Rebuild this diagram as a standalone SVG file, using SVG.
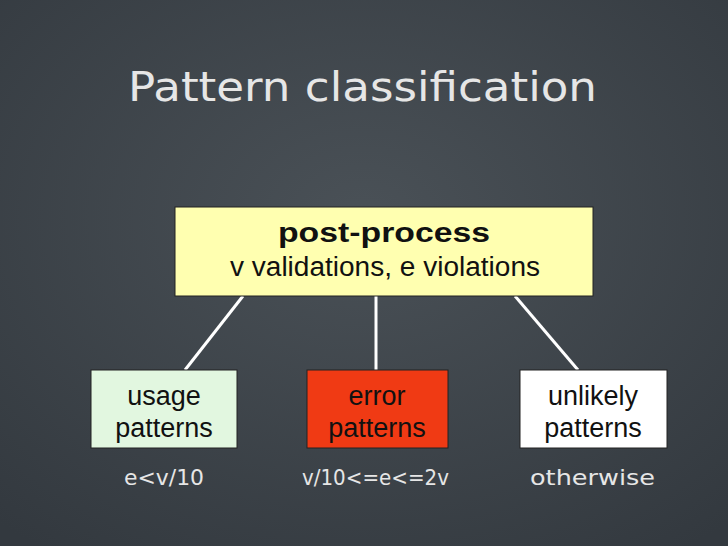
<svg xmlns="http://www.w3.org/2000/svg" width="728" height="546" viewBox="0 0 728 546">
<defs>
<radialGradient id="bg" cx="50%" cy="40%" r="75%">
<stop offset="0" stop-color="#4a5157"/><stop offset="1" stop-color="#33393f"/>
</radialGradient>
<style>
.box{stroke:#222;stroke-width:1}
.t{font-family:"Liberation Sans",Arial,sans-serif;font-size:27px;text-anchor:middle;fill:#111}
.chalk{font-family:"DejaVu Sans",sans-serif;fill:#e6e6e6}
.conn line{stroke:#fff;stroke-width:3}
</style>
</defs>
<rect width="728" height="546" fill="url(#bg)"/>
<text class="chalk" x="128" y="101" font-size="40" textLength="469" lengthAdjust="spacingAndGlyphs">Pattern classification</text>
<g class="conn">
<line x1="243" y1="296" x2="185" y2="370"/>
<line x1="376" y1="296" x2="376" y2="370"/>
<line x1="515" y1="296" x2="578" y2="370"/>
</g>
<g id="post-process">
<rect class="box" x="175" y="207" width="418" height="89" fill="#ffffb0"/>
<text class="t" x="384" y="242" font-weight="bold" font-size="30" textLength="212" lengthAdjust="spacingAndGlyphs">post-process</text>
<text class="t" x="385" y="276" textLength="310" lengthAdjust="spacingAndGlyphs">v validations, e violations</text>
</g>
<g id="usage">
<rect class="box" x="91" y="370" width="146" height="78" fill="#e2f7e0"/>
<text class="t" x="164" y="405">usage</text>
<text class="t" x="164" y="437">patterns</text>
</g>
<g id="error">
<rect class="box" x="307" y="370" width="141" height="78" fill="#f03a14"/>
<text class="t" x="377" y="405">error</text>
<text class="t" x="377" y="437">patterns</text>
</g>
<g id="unlikely">
<rect class="box" x="520" y="370" width="147" height="78" fill="#ffffff"/>
<text class="t" x="593" y="405">unlikely</text>
<text class="t" x="593" y="437">patterns</text>
</g>
<text class="chalk" x="124" y="485" font-size="22" textLength="80" lengthAdjust="spacingAndGlyphs">e&lt;v/10</text>
<text class="chalk" x="302" y="485" font-size="22" textLength="147" lengthAdjust="spacingAndGlyphs">v/10&lt;=e&lt;=2v</text>
<text class="chalk" x="530" y="485" font-size="22" textLength="125" lengthAdjust="spacingAndGlyphs">otherwise</text>
</svg>
